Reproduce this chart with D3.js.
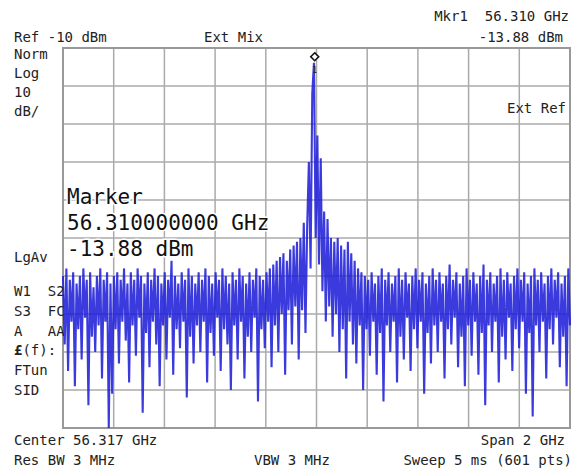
<!DOCTYPE html>
<html>
<head>
<meta charset="utf-8">
<script src="https://cdn.jsdelivr.net/npm/d3@7"></script>
<style>
  body { margin: 0; background: #fff; }
  text { font-family: "DejaVu Sans Mono", monospace; fill: #222; white-space: pre; }
</style>
</head>
<body>
<div id="plot"></div>
<script>
// sweep settings
const centerGHz = 56.317;
const spanGHz = 2;
const refLevel = -10;
const dbPerDiv = 10;
const markerFreq = 56.310;
const markerLevel = -13.88;

// trace amplitudes in dBm (left to right)
const trace = [
  -70,-88,-68,-95,-71,-82,-69,-99,-72,-84,-70,-92,-68,-81,-71,-104,-69,-86,-73,-90,
  -70,-83,-68,-97,-71,-82,-69,-110,-72,-101,-70,-84,-69,-93,-71,-82,-68,-87,-72,-98,
  -69,-83,-71,-91,-68,-81,-70,-106,-72,-85,-69,-94,-71,-82,-68,-88,-70,-99,-72,-83,
  -69,-92,-71,-81,-66,-96,-70,-84,-72,-89,-69,-82,-71,-102,-68,-86,-70,-93,-72,-83,
  -69,-90,-71,-82,-68,-98,-70,-85,-72,-91,-69,-81,-71,-95,-68,-84,-70,-88,-72,-100,
  -69,-83,-71,-92,-68,-82,-70,-97,-72,-86,-69,-90,-71,-81,-68,-103,-70,-84,-71,-89,
  -69,-82,-68,-94,-67,-83,-66,-90,-65,-80,-64,-96,-66,-79,-63,-88,-62,-78,-61,-92,
  -60,-79,-56,-85,-57,-40,-68,-22,-13.88,-60,-33,-67,-39,-74,-53,-82,-55,-78,-60,-86,
  -61,-80,-60,-90,-62,-84,-63,-97,-61,-82,-64,-88,-66,-93,-68,-83,-69,-100,-70,-84,
  -71,-91,-69,-82,-72,-96,-70,-85,-68,-103,-71,-83,-69,-90,-72,-82,-70,-98,-68,-86,
  -71,-92,-69,-81,-72,-95,-70,-84,-68,-89,-71,-82,-69,-101,-72,-85,-70,-93,-68,-83,
  -71,-90,-69,-82,-72,-97,-70,-84,-67,-88,-71,-81,-69,-94,-72,-86,-70,-99,-68,-83,
  -71,-91,-69,-82,-72,-96,-70,-85,-67,-104,-71,-83,-69,-90,-72,-82,-70,-98,-68,-86,
  -71,-92,-69,-81,-72,-95,-70,-84,-68,-89,-71,-82,-69,-101,-72,-85,-70,-107,-68,-83,
  -71,-90,-69,-82,-72,-97,-70,-84,-68,-88,-71,-81,-69,-94,-72,-86,-70,-99,-68,-83
];

// annotation texts
const leftLabels = ["Norm", "Log", "10", "dB/"];
const statusLabels = ["W1  S2", "S3  FC", "A   AA", "(f):", "FTun", "SID"];
const markerLines = ["Marker", "56.310000000 GHz", "-13.88 dBm"];

const width = 573, height = 474;
const plotLeft = 63, plotTop = 48, plotW = 507, plotH = 380;

const svg = d3.select("#plot").append("svg")
  .attr("width", width).attr("height", height);

const startF = centerGHz - spanGHz / 2;
const stopF = centerGHz + spanGHz / 2;

let xScale = d3.scaleLinear().domain([startF, stopF]).range([plotLeft, plotLeft + plotW]);
let yScale = d3.scaleLinear().domain([refLevel - 10 * dbPerDiv, refLevel]).range([plotTop + plotH, plotTop]);

// grid
let xTicks = d3.range(11).map(function(i) { return startF + i * spanGHz / 10; });
let yTicks = d3.range(11).map(function(i) { return refLevel - i * dbPerDiv; });

svg.append("g").selectAll("line").data(xTicks).enter().append("line")
  .attr("x1", function(d) { return xScale(d); }).attr("x2", function(d) { return xScale(d); })
  .attr("y1", plotTop).attr("y2", plotTop + plotH)
  .style("stroke", "#aaa").style("stroke-width", 1.5);
svg.append("g").selectAll("line").data(yTicks).enter().append("line")
  .attr("y1", function(d) { return yScale(d); }).attr("y2", function(d) { return yScale(d); })
  .attr("x1", plotLeft).attr("x2", plotLeft + plotW)
  .style("stroke", "#aaa").style("stroke-width", 1.5);
svg.append("rect")
  .attr("x", plotLeft).attr("y", plotTop).attr("width", plotW).attr("height", plotH)
  .style("fill", "none").style("stroke", "#999").style("stroke-width", 2);

// marker readout in the plot (drawn under the trace)
svg.append("g").selectAll("text").data(markerLines).enter().append("text")
  .attr("x", 67).attr("y", function(d, i) { return 204 + i * 26; })
  .style("font-size", "21px").style("fill", "#111")
  .style("stroke", "#fff").style("stroke-width", 3).style("paint-order", "stroke")
  .text(function(d) { return d; });

// trace
let step = spanGHz / (trace.length - 1);
let line = d3.line()
  .x(function(d, i) { return xScale(startF + i * step); })
  .y(function(d) { return yScale(d); });

svg.append("path")
  .datum(trace)
  .attr("d", line)
  .style("fill", "none")
  .style("stroke", "#2020d8")
  .style("stroke-width", 2.1)
  .style("stroke-linejoin", "miter")
  .style("opacity", 0.88);

// marker symbol
let mx = xScale(markerFreq), my = yScale(markerLevel);
svg.append("path")
  .attr("d", d3.symbol(d3.symbolDiamond2, 40)())
  .attr("transform", "translate(" + mx + "," + (my - 6) + ")")
  .style("fill", "#fff").style("stroke", "#111").style("stroke-width", 1.6);
svg.append("text").attr("x", mx).attr("y", my + 10)
  .style("font-size", "8px").style("text-anchor", "middle").text("1");

// header
svg.append("text").attr("x", 14).attr("y", 42).style("font-size", "14px").text("Ref -10 dBm");
svg.append("text").attr("x", 204).attr("y", 42).style("font-size", "14px").text("Ext Mix");
svg.append("text").attr("x", 569).attr("y", 21).style("font-size", "14px")
  .style("text-anchor", "end").text("Mkr1  56.310 GHz");
svg.append("text").attr("x", 563).attr("y", 42).style("font-size", "14px")
  .style("text-anchor", "end").text("-13.88 dBm");
svg.append("text").attr("x", 566).attr("y", 113).style("font-size", "14px")
  .style("text-anchor", "end").text("Ext Ref");

// left side labels
svg.append("g").selectAll("text").data(leftLabels).enter().append("text")
  .attr("x", 14).attr("y", function(d, i) { return 59 + i * 19; })
  .style("font-size", "14px").text(function(d) { return d; });
svg.append("text").attr("x", 14).attr("y", 262).style("font-size", "14px").text("LgAv");
let status = svg.append("g").selectAll("text").data(statusLabels).enter().append("text")
  .attr("x", 14).attr("y", function(d, i) { return 296 + i * 19.8; })
  .style("font-size", "14px");
status.filter(function(d, i) { return i == 3; }).append("tspan")
  .style("font-weight", "bold").text("£");
status.append("tspan").text(function(d) { return d; });

// footer
svg.append("text").attr("x", 14).attr("y", 445).style("font-size", "14px").text("Center 56.317 GHz");
svg.append("text").attr("x", 14).attr("y", 465).style("font-size", "14px").text("Res BW 3 MHz");
svg.append("text").attr("x", 254).attr("y", 465).style("font-size", "14px").text("VBW 3 MHz");
svg.append("text").attr("x", 565).attr("y", 445).style("font-size", "14px")
  .style("text-anchor", "end").text("Span 2 GHz");
svg.append("text").attr("x", 572).attr("y", 465).style("font-size", "14px")
  .style("text-anchor", "end").text("Sweep 5 ms (601 pts)");
</script>
</body>
</html>
